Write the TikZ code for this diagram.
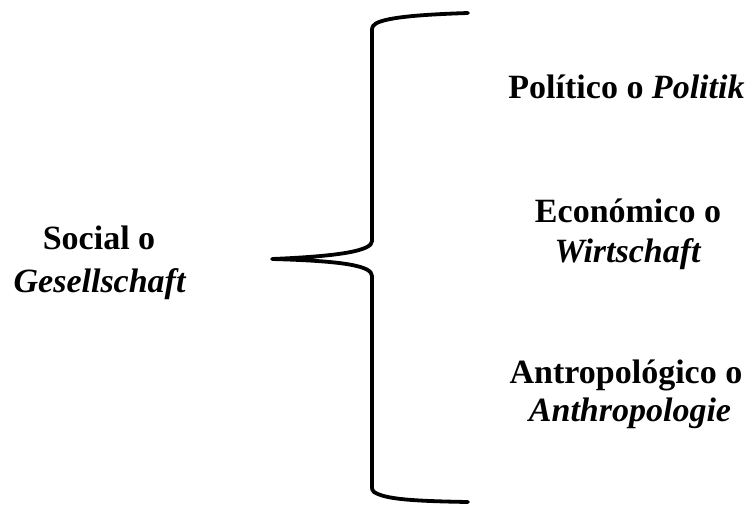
\documentclass[tikz,border=0pt]{standalone}
\usepackage{fontspec}
\setmainfont{Liberation Serif}
\begin{document}
\begin{tikzpicture}[x=1pt,y=-1pt,
  label/.style={inner sep=0pt, anchor=base, font=\fontsize{34}{41}\selectfont\bfseries},
  bracket/.style={line width=3.8pt, line cap=round, line join=round}]
\useasboundingbox (0,0) rectangle (753,504);

% left term
\node[label] (soc1) at (99,249) {Social o};
\node[label] (soc2) at (100,292) {\textit{Gesellschaft}};

% right terms
\node[label] (pol)  at (626.5,98) {Político o \textit{Politik}};
\node[label] (eco1) at (628,222) {Económico o};
\node[label] (eco2) at (628,262) {\textit{Wirtschaft}};
\node[label] (ant1) at (626,383) {Antropológico o};
\node[label] (ant2) at (630,421) {\textit{Anthropologie}};

% the curly brace joining them
\coordinate (tip) at (272,259);
\coordinate (topend) at (468,13);
\coordinate (botend) at (468,502);
\draw[bracket] (topend) .. controls (405,15) and (378,19) .. (373,26)
  .. controls (372,28) .. (372,34) -- (372,241)
  .. controls (372,250) and (345,256) .. (tip)
  .. controls (345,261) and (372,266) .. (372,276) -- (372,484)
  .. controls (372,490) .. (374,492)
  .. controls (385,499) and (410,501) .. (botend);
\end{tikzpicture}
\end{document}
